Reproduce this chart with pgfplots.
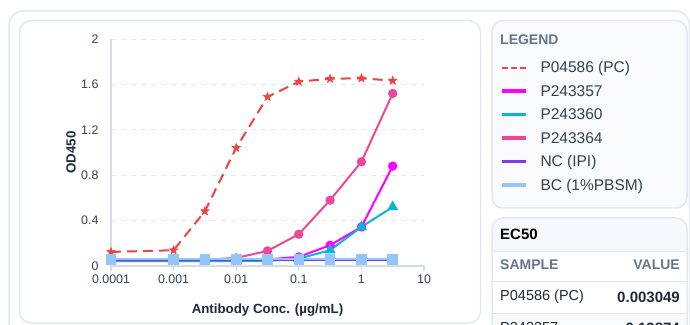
\documentclass[border=0pt]{standalone}
\usepackage{pgfplots}
\pgfplotsset{compat=1.18}
\usepackage{fontspec}
\setmainfont{Liberation Sans}
\definecolor{cPC}{HTML}{EF4444}
\definecolor{cA}{HTML}{FF00FF}
\definecolor{cB}{HTML}{06B6D4}
\definecolor{cC}{HTML}{EC4899}
\definecolor{cNC}{HTML}{7C3AED}
\definecolor{cBC}{HTML}{93C5FD}
\definecolor{cardline}{HTML}{E2E8F0}
\definecolor{legendbg}{HTML}{F8FAFC}
\definecolor{headbg}{HTML}{F5F9FC}
\definecolor{graytxt}{HTML}{64748B}
\definecolor{axisline}{HTML}{D5DCE6}
\definecolor{gridc}{HTML}{E5E7EB}
\definecolor{tickc}{HTML}{374151}
\definecolor{labc}{HTML}{1F2937}
\definecolor{legc}{HTML}{334155}
\pgfdeclareplotmark{fstar}{%
  \pgfpathmoveto{\pgfpointpolar{90}{\pgfplotmarksize}}%
  \pgfpathlineto{\pgfpointpolar{126}{0.42\pgfplotmarksize}}%
  \pgfpathlineto{\pgfpointpolar{162}{\pgfplotmarksize}}%
  \pgfpathlineto{\pgfpointpolar{198}{0.42\pgfplotmarksize}}%
  \pgfpathlineto{\pgfpointpolar{234}{\pgfplotmarksize}}%
  \pgfpathlineto{\pgfpointpolar{270}{0.42\pgfplotmarksize}}%
  \pgfpathlineto{\pgfpointpolar{306}{\pgfplotmarksize}}%
  \pgfpathlineto{\pgfpointpolar{342}{0.42\pgfplotmarksize}}%
  \pgfpathlineto{\pgfpointpolar{18}{\pgfplotmarksize}}%
  \pgfpathlineto{\pgfpointpolar{54}{0.42\pgfplotmarksize}}%
  \pgfpathclose
  \pgfusepathqfillstroke}
\pgfplotsset{
  solidleg/.style={legend image code/.code={\draw[##1,line width=3.5pt] (0pt,5pt) -- (24pt,5pt);}},
  dashleg/.style={legend image code/.code={\draw[color=cPC,line width=1.8pt,dash pattern=on 6pt off 3pt] (0pt,5pt) -- (24pt,5pt);}},
}
\begin{document}
\begin{tikzpicture}[x=1pt,y=1pt]
\path[use as bounding box] (0,0) rectangle (690,324);
\clip (0,0) rectangle (690,324);
% cards
\draw[cardline, line width=1.5pt, rounded corners=14pt] (9,-40) rectangle (689.5,313);
\draw[cardline, line width=1.5pt, fill=white, rounded corners=12pt] (19.5,1) rectangle (480.5,303.5);
\draw[cardline, line width=1.5pt, fill=legendbg, rounded corners=11pt] (492,116) rectangle (687,303.5);
\begin{scope}
\clip[rounded corners=11pt] (492,-40) rectangle (687,106);
\fill[white] (492,-40) rectangle (687,106);
\fill[headbg] (492,73) rectangle (687,106);
\fill[legendbg] (492,-40) rectangle (687,11);
\draw[cardline, line width=1pt] (492,73) -- (687,73);
\draw[cardline, line width=1pt] (492,43) -- (687,43);
\draw[cardline, line width=1pt] (492,11) -- (687,11);
\end{scope}
\draw[cardline, line width=1.5pt, rounded corners=11pt] (492,-40) rectangle (687,106);
% texts of cards
\node[anchor=west, inner sep=0pt, font=\fontsize{14}{16}\selectfont\bfseries, text=graytxt] at (500,284) {LEGEND};
\node[anchor=west, inner sep=0pt, font=\fontsize{15}{18}\selectfont\bfseries, text=black] at (500,90) {EC50};
\node[anchor=west, inner sep=0pt, font=\fontsize{14}{16}\selectfont\bfseries, text=graytxt] at (500,59) {SAMPLE};
\node[anchor=east, inner sep=0pt, font=\fontsize{14}{16}\selectfont\bfseries, text=graytxt] at (680,59) {VALUE};
\node[anchor=west, inner sep=0pt, font=\fontsize{14.5}{17}\selectfont, text=labc] at (500,27) {P04586 (PC)};
\node[anchor=east, inner sep=0pt, font=\fontsize{15}{18}\selectfont\bfseries, text=labc] at (680,27) {0.003049};
\node[anchor=west, inner sep=0pt, font=\fontsize{14.5}{17}\selectfont, text=labc] at (500,-4) {P243357};
\node[anchor=east, inner sep=0pt, font=\fontsize{15}{18}\selectfont\bfseries, text=labc] at (680,-4) {0.19874};
\begin{axis}[
  at={(111pt,58pt)}, anchor=south west,
  width=313pt, height=227pt, scale only axis,
  xmode=log, xmin=1e-4, xmax=10, ymin=0, ymax=2,
  clip=false,
  axis x line*=bottom, axis y line*=left,
  axis line style={draw=axisline, line width=1.3pt, -},
  xtick={1e-4,1e-3,1e-2,1e-1,1,10},
  xticklabels={0.0001,0.001,0.01,0.1,1,10},
  xminorticks=false,
  ytick={0,0.4,0.8,1.2,1.6,2},
  yticklabels={0,0.4,0.8,1.2,1.6,2},
  ymajorgrids,
  grid style={draw=gridc, dash pattern=on 5pt off 5pt, line width=0.8pt},
  tick align=outside, major tick length=5pt,
  xtick style={draw=axisline, line width=1.2pt},
  ytick style={draw=none},
  ticklabel style={font=\fontsize{12.4}{14}\selectfont, text=tickc},
  yticklabel style={xshift=-4pt},
  xlabel={Antibody Conc. (µg/mL)},
  ylabel={OD450},
  label style={font=\fontsize{13.3}{15}\selectfont\bfseries, text=labc},
  xlabel style={at={(axis description cs:0.5,-0.194)}, anchor=center},
  ylabel style={at={(axis description cs:-0.128,0.5)}, anchor=center, rotate=0},
  legend cell align=left,
  legend style={at={(axis description cs:1.2428,0.9036)}, anchor=north west,
    draw=none, fill=none, inner sep=0pt, outer sep=0pt,
    column sep=13pt, row sep=0pt,
    font=\fontsize{15.5}{18}\selectfont,
    nodes={inner sep=0pt, text height=11.75pt, text depth=11.75pt, text=legc}},
]
\addplot[cPC, line width=2pt, dash pattern=on 10pt off 6pt, mark=fstar, mark size=4.5pt,
  mark options={solid, fill=cPC, line width=0.5pt}, dashleg] coordinates {
  (0.0001,0.124) (0.001,0.139) (0.003162,0.483) (0.01,1.041) (0.03162,1.49)
  (0.1,1.624) (0.3162,1.65) (1,1.654) (3.162,1.633)};
\addlegendentry{P04586 (PC)}
\addplot[cA, line width=2pt, mark=*, mark size=3.6pt, mark options={fill=cA}, solidleg] coordinates {
  (0.0001,0.05) (0.001,0.05) (0.003162,0.05) (0.01,0.055) (0.03162,0.058)
  (0.1,0.08) (0.3162,0.183) (1,0.344) (3.162,0.88)};
\addlegendentry{P243357}
\addplot[cB, line width=2pt, mark=triangle*, mark size=4.5pt, mark options={fill=cB}, solidleg] coordinates {
  (0.0001,0.042) (0.001,0.042) (0.003162,0.042) (0.01,0.045) (0.03162,0.045)
  (0.1,0.065) (0.3162,0.139) (1,0.344) (3.162,0.52)};
\addlegendentry{P243360}
\addplot[cC, line width=2pt, mark=*, mark size=3.6pt, mark options={fill=cC}, solidleg] coordinates {
  (0.0001,0.05) (0.001,0.05) (0.003162,0.055) (0.01,0.071) (0.03162,0.133)
  (0.1,0.28) (0.3162,0.58) (1,0.918) (3.162,1.52)};
\addlegendentry{P243364}
\addplot[cNC, line width=2pt, mark=none, solidleg] coordinates {
  (0.0001,0.056) (0.001,0.056) (0.003162,0.056) (0.01,0.056) (0.03162,0.056)
  (0.1,0.056) (0.3162,0.056) (1,0.056) (3.162,0.056)};
\addlegendentry{NC (IPI)}
\addplot[cBC, line width=2pt, mark=square*, mark size=4.3pt, mark options={fill=cBC}, solidleg] coordinates {
  (0.0001,0.058) (0.001,0.058) (0.003162,0.058) (0.01,0.058) (0.03162,0.058)
  (0.1,0.058) (0.3162,0.058) (1,0.058) (3.162,0.058)};
\addlegendentry{BC (1\%PBSM)}
\end{axis}
\end{tikzpicture}
\end{document}
